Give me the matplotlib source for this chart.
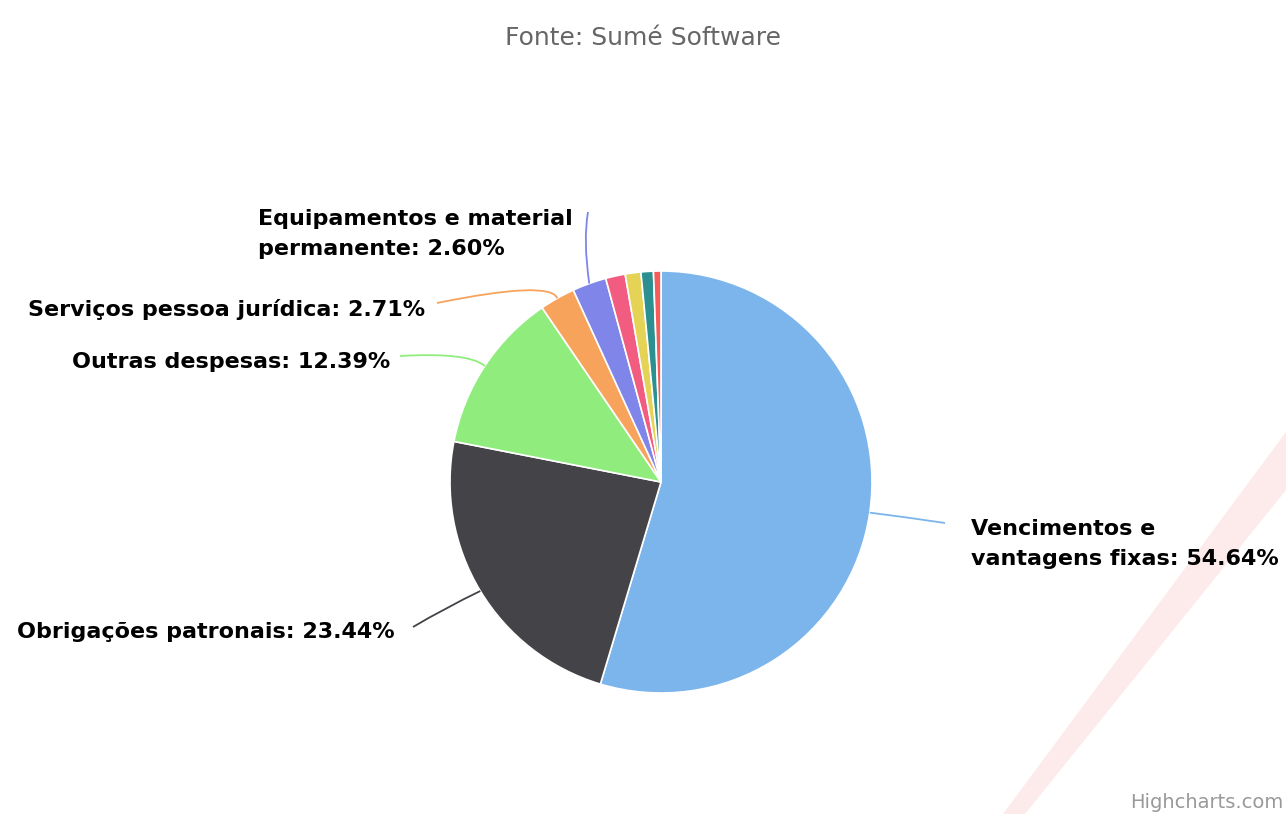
import matplotlib.pyplot as plt
import numpy as np
from matplotlib.path import Path
from matplotlib.patches import PathPatch, Polygon

# data
categories = ['Vencimentos e vantagens fixas', 'Obrigações patronais', 'Outras despesas',
              'Serviços pessoa jurídica', 'Equipamentos e material permanente',
              'Outro 1', 'Outro 2', 'Outro 3', 'Outro 4']
values = [54.64, 23.44, 12.39, 2.71, 2.60, 1.50, 1.20, 0.95, 0.57]
colors = ['#7cb5ec', '#434348', '#90ed7d', '#f7a35c', '#8085e9',
          '#f15c80', '#e4d354', '#2b908f', '#f45b5b']
label_texts = ['Vencimentos e\nvantagens fixas: 54.64%', 'Obrigações patronais: 23.44%',
               'Outras despesas: 12.39%', 'Serviços pessoa jurídica: 2.71%',
               'Equipamentos e material\npermanente: 2.60%']

W, H = 1286, 814
cx, cy, R = 661, 482, 211

fig = plt.figure(figsize=(W / 100, H / 100), dpi=100)
fig.patch.set_facecolor('white')

# watermark band (behind everything)
band = Polygon([(1003 / W, 0), (1025 / W, 0), (1, 1 - 490 / H), (1, 1 - 432 / H)],
               closed=True, transform=fig.transFigure, facecolor='#fdeaea',
               edgecolor='none', zorder=-5)
fig.patches.append(band)

ax = fig.add_axes([(cx - R) / W, (H - cy - R) / H, 2 * R / W, 2 * R / H])
ax.set_zorder(2)
ax.patch.set_visible(False)

wedges, _ = ax.pie(values, colors=colors, startangle=90, counterclock=False, radius=1,
                   wedgeprops=dict(edgecolor='white', linewidth=1.2))
ax.set_xlim(-1, 1)
ax.set_ylim(-1, 1)
ax.axis('off')


def px(x, y):
    return ((x - cx) / R, (cy - y) / R)


# label layout: (text anchor px, ha, connector bend px, connector end px)
layout = [
    ((971, 544), 'left', (905, 517), (945, 523)),
    ((395, 632), 'right', (445, 608), (413, 627)),
    ((390, 362), 'right', (468, 352), (400, 356)),
    ((425, 310), 'right', (550, 280), (437, 303)),
    ((258, 234), 'left', (583, 240), (588, 212)),
]

for i, (txt, (pos, ha, bend, end)) in enumerate(zip(label_texts, layout)):
    w = wedges[i]
    mid = np.deg2rad((w.theta1 + w.theta2) / 2)
    start = (np.cos(mid), np.sin(mid))
    path = Path([start, px(*bend), px(*end)], [Path.MOVETO, Path.CURVE3, Path.CURVE3])
    ax.add_patch(PathPatch(path, facecolor='none', edgecolor=colors[i], lw=1.3,
                           clip_on=False))
    tx, ty = px(*pos)
    ax.text(tx, ty, txt, ha=ha, va='center', fontsize=16, fontweight='bold',
            color='#000000', linespacing=1.6, multialignment='left', clip_on=False)

fig.text(0.5, 1 - 38 / H, 'Fonte: Sumé Software', ha='center', va='center',
         fontsize=18, color='#666666')
fig.text(1283 / W, 1 - 803 / H, 'Highcharts.com', ha='right', va='center',
         fontsize=14, color='#999999')

fig.savefig('out.png', dpi=100, facecolor='white')
